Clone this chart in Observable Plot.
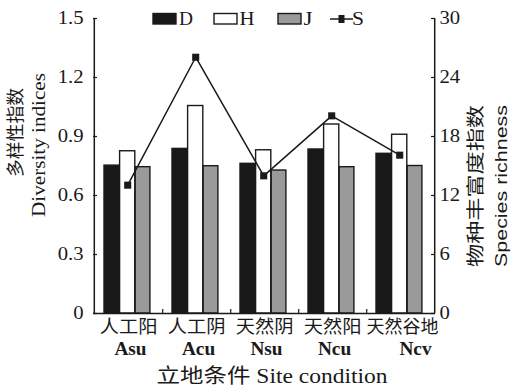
<!DOCTYPE html>
<html><head><meta charset="utf-8">
<script src="https://cdn.jsdelivr.net/npm/d3@7"></script>
<script src="https://cdn.jsdelivr.net/npm/@observablehq/plot@0.6"></script>
<style>
body{margin:0;background:#fff}
#chart{width:511px;height:387px}
</style></head><body><div id="chart"></div>
<script>
const sites = ["Asu","Acu","Nsu","Ncu","Ncv"];
const sitesZh = ["人工阳","人工阴","天然阴","天然阳","天然谷地"];
const D = [0.752,0.837,0.761,0.834,0.812];
const H = [0.825,1.055,0.830,0.961,0.909];
const J = [0.744,0.749,0.727,0.744,0.750];
const S = [13.05,26.06,14.0,20.1,16.1];
const leftTicks = [0,0.3,0.6,0.9,1.2,1.5];
const rightTicks = [0,6,12,18,24,30];
const seriesNames = ["D","H","J","S"];
const ratio = 1.5/30;

const serif = '"Liberation Serif","Times New Roman","Noto Sans CJK SC",serif';
const ink = "#1a1a1a";
const W=511, HT=387, mL=93, mR=76, mT=18, mB=74;
const bw = (W-mL-mR)/sites.length;
const fw = W-mL-mR, fh = HT-mT-mB;

const rows = sites.map((s,i)=>({site:s, zh:sitesZh[i], D:D[i], H:H[i], J:J[i], S:S[i], S2:S[i]*ratio}));
function bars(key, fill, l, r){
  return Plot.barY(rows,{x:"site", y:key, fill, stroke:ink, strokeWidth:1.4, insetLeft:l, insetRight:bw-r});
}

const plot = Plot.plot({
  width:W, height:HT, marginLeft:mL, marginRight:mR, marginTop:mT, marginBottom:mB,
  style:{fontFamily:serif, fontSize:"18px", color:ink, background:"#fff"},
  x:{type:"band", domain:sites, padding:0, axis:null},
  y:{domain:[0,1.5]},
  marks:[
    bars("D","#191919",10,25.6),
    bars("H","#ffffff",25.6,41.2),
    bars("J","#9a9a9a",41.2,56.3),
    Plot.line(rows,{x:"site", y:"S2", stroke:ink, strokeWidth:1.5, dx:-0.8}),
    Plot.dot(rows,{x:"site", y:"S2", symbol:"square", r:4, fill:ink, dx:-0.8}),
    Plot.ruleY([0],{stroke:ink, strokeWidth:1.5}),
    Plot.ruleX([sites[0]],{dx:-bw/2, stroke:ink, strokeWidth:1.5}),
    Plot.ruleX([sites[sites.length-1]],{dx:bw/2, stroke:ink, strokeWidth:1.5}),
    Plot.tickY(leftTicks,{y:d=>d, stroke:ink, strokeWidth:1.2, insetRight:fw-4}),
    Plot.tickY(rightTicks.map(d=>d*ratio),{y:d=>d, stroke:ink, strokeWidth:1.2, insetLeft:fw-4}),
    Plot.ruleX(sites.slice(0,-1),{x:d=>d, dx:bw/2, y1:0, y2:4*1.5/fh, stroke:ink, strokeWidth:1.2}),
    Plot.axisY(leftTicks,{anchor:"left", tickSize:0, tickPadding:10, label:null, fontSize:18, tickFormat:d=>String(d)}),
    Plot.axisY(rightTicks.map(d=>d*ratio),{anchor:"right", tickSize:0, tickPadding:4, label:null, fontSize:18, tickFormat:d=>String(Math.round(d/ratio))}),
    Plot.text(rows.slice(0,-1),{x:"site", text:"zh", frameAnchor:"bottom", dy:19.5, fontSize:18, fill:ink}),
    Plot.text(rows.slice(-1),{x:"site", text:"zh", frameAnchor:"bottom", dy:19.5, dx:2, fontSize:18, fill:ink}),
    Plot.text(rows.slice(0,-1),{x:"site", text:"site", frameAnchor:"bottom", dy:41, dx:2, fontSize:18, fontWeight:"bold", fill:ink}),
    Plot.text(rows.slice(-1),{x:"site", text:"site", frameAnchor:"bottom", dy:41, dx:15, fontSize:18, fontWeight:"bold", fill:ink})
  ]
});
document.getElementById("chart").appendChild(plot);

const svg = d3.select(plot);
svg.selectAll('g[aria-label="y-axis tick label"] text').each(function(){
  const l = this.getComputedTextLength();
  d3.select(this).attr("textLength", l*1.15).attr("lengthAdjust","spacingAndGlyphs");
});
svg.selectAll('g[aria-label="text"] text').each(function(){
  if (this.textContent === sitesZh[sitesZh.length-1]) return;
  const l = this.getComputedTextLength();
  d3.select(this).attr("textLength", l*1.07).attr("lengthAdjust","spacingAndGlyphs");
});

function vtext(x, y, str, len, size, family){
  svg.append("text").attr("transform",`translate(${x},${y}) rotate(-90)`)
    .attr("text-anchor","middle").attr("dominant-baseline","central")
    .attr("font-family", family||serif).attr("font-size",size).attr("fill",ink)
    .attr("textLength",len).attr("lengthAdjust","spacingAndGlyphs").text(str);
}
vtext(16,132.5,"多样性指数",89,18);
vtext(39,145,"Diversity indices",144,18);
vtext(476,186,"物种丰富度指数",162,18);
vtext(501,186,"Species richness",162,17,'"Liberation Sans",Arial,sans-serif');

svg.append("text").attr("x",272).attr("y",376).attr("text-anchor","middle").attr("dominant-baseline","central")
  .attr("font-family",serif).attr("font-size",20).attr("fill",ink)
  .attr("textLength",231).attr("lengthAdjust","spacingAndGlyphs").text("立地条件 Site condition");

// legend
const lg = svg.append("g");
const legendFills = ["#191919","#ffffff","#9a9a9a"];
const rectX = [153,214,278], textX = [186,247,308,358], textW = [14,15,9,12];
legendFills.forEach((f,i)=>{
  lg.append("rect").attr("x",rectX[i]).attr("y",13.5).attr("width",23).attr("height",10.5)
    .attr("fill",f).attr("stroke",ink).attr("stroke-width",1.4);
});
lg.append("line").attr("x1",330).attr("x2",353).attr("y1",19).attr("y2",19).attr("stroke",ink).attr("stroke-width",1.5);
lg.append("rect").attr("x",338.5).attr("y",15).attr("width",6).attr("height",8).attr("fill",ink);
seriesNames.forEach((n,i)=>{
  lg.append("text").attr("x",textX[i]).attr("y",25).attr("font-family",serif).attr("font-size",18)
    .attr("fill",ink).attr("textLength",textW[i]).attr("lengthAdjust","spacingAndGlyphs").text(n);
});
</script></body></html>
